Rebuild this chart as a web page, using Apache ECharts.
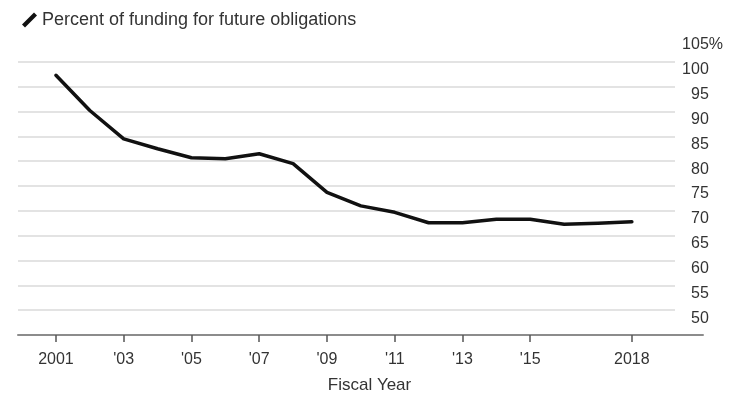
<!DOCTYPE html>
<html>
<head>
<meta charset="utf-8">
<script src="https://cdn.jsdelivr.net/npm/echarts@6/dist/echarts.min.js"></script>
<style>
  html, body { margin: 0; background: #fff; }
  #chart { width: 736px; height: 394px; }
</style>
</head>
<body>
<div id="chart"></div>
<script>
// fiscal years and percent funded
const years = [2001, 2002, 2003, 2004, 2005, 2006, 2007, 2008, 2009, 2010, 2011, 2012, 2013, 2014, 2015, 2016, 2017, 2018]
const funded = [97.3, 90.2, 84.5, 82.5, 80.7, 80.5, 81.5, 79.5, 73.7, 71.0, 69.7, 67.6, 67.6, 68.3, 68.3, 67.3, 67.5, 67.8]
const xTicks = [2001, 2003, 2005, 2007, 2009, 2011, 2013, 2015, 2018]
const seriesName = 'Percent of funding for future obligations'

const chart = echarts.init(document.getElementById('chart'))

chart.setOption({
  animation: false,
  textStyle: { fontFamily: 'Liberation Sans, Arial, sans-serif' },
  legend: {
    left: 17,
    top: 6,
    itemWidth: 15,
    itemHeight: 15,
    data: [{ name: seriesName, icon: 'path://M8,0 L10,2 L2,10 L0,8 Z' }],
    textStyle: { fontSize: 18, color: '#333' }
  },
  grid: [
    // line + x axis
    { left: 18, right: 33, top: 37, bottom: 59, outerBoundsMode: 'none' },
    // horizontal gridlines + y labels
    { left: 18, right: 61, top: 37, bottom: 59, outerBoundsMode: 'none' }
  ],
  xAxis: [
    {
      type: 'value',
      gridIndex: 0,
      min: 1999.88,
      max: 2020.1,
      splitLine: { show: false },
      axisLine: { lineStyle: { color: '#8c8c8c', width: 2 } },
      axisTick: {
        customValues: xTicks,
        length: 7,
        lineStyle: { color: '#555', width: 1.5 }
      },
      axisLabel: {
        customValues: xTicks,
        margin: 17,
        fontSize: 16,
        color: '#333',
        formatter: function (v) {
          if (v === 2001 || v === 2018) return String(v)
          return "'" + String(v).slice(2)
        }
      },
      name: 'Fiscal Year',
      nameLocation: 'middle',
      nameGap: 42,
      nameTextStyle: { fontSize: 17, color: '#333', padding: [0, 0, 0, 18] }
    },
    { type: 'value', gridIndex: 1, show: false, min: 0, max: 1 }
  ],
  yAxis: [
    { type: 'value', gridIndex: 0, show: false, min: 45, max: 105 },
    {
      type: 'value',
      gridIndex: 1,
      position: 'right',
      min: 45,
      max: 105,
      interval: 5,
      axisLine: { show: false },
      axisTick: { show: false },
      splitLine: {
        show: true,
        showMinLine: false,
        showMaxLine: false,
        lineStyle: { color: '#e3e3e3', width: 2 }
      },
      axisLabel: {
        showMinLabel: false,
        align: 'right',
        verticalAlign: 'top',
        margin: 48,
        fontSize: 16,
        color: '#333',
        formatter: function (v) {
          return v === 105 ? v + '{p|%}' : v + '{h|%}'
        },
        rich: {
          p: { fontSize: 16, color: '#333' },
          h: { fontSize: 16, color: 'rgba(0,0,0,0)' }
        }
      }
    }
  ],
  series: [
    {
      name: seriesName,
      type: 'line',
      xAxisIndex: 0,
      yAxisIndex: 0,
      symbol: 'none',
      color: '#111',
      lineStyle: { color: '#111', width: 3.5, join: 'round', cap: 'round' },
      data: years.map((y, i) => [y, funded[i]])
    }
  ]
})
</script>
</body>
</html>
